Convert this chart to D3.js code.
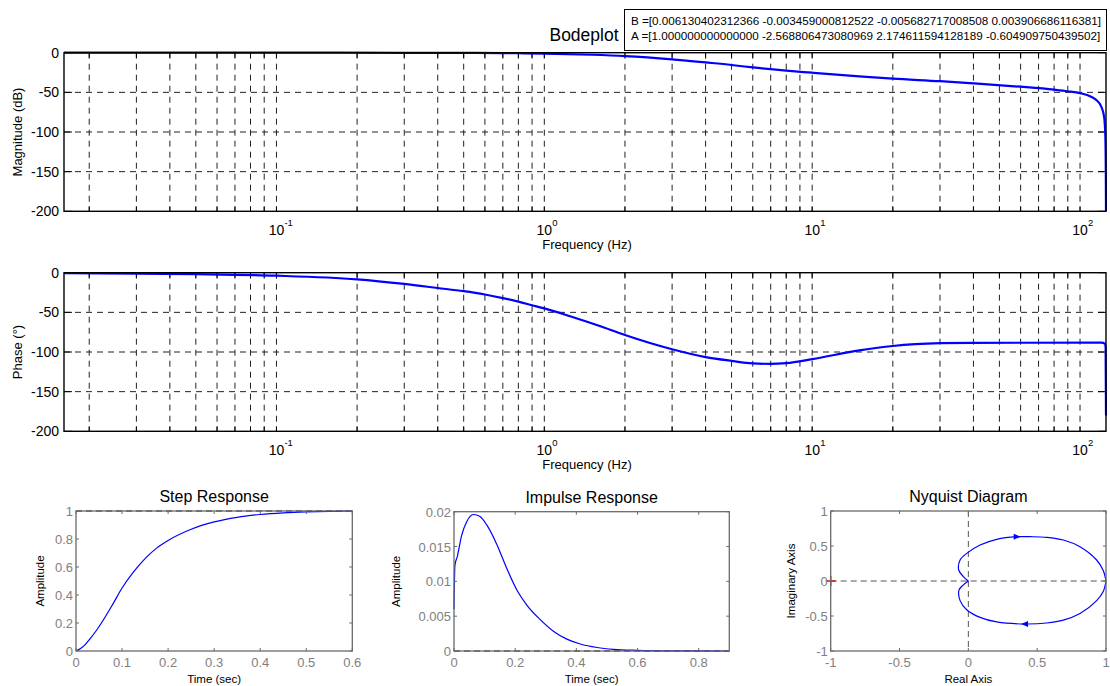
<!DOCTYPE html>
<html>
<head>
<meta charset="utf-8">
<title>Bodeplot</title>
<script src="https://cdn.jsdelivr.net/npm/d3@7"></script>
<style>
body { margin: 0; background: #fff; }
text { font-family: Arial, "Liberation Sans", sans-serif; }
</style>
</head>
<body>
<svg id="mainsvg" width="1110" height="686"></svg>
<script>
// ---- data ----
const coefLines = [
  'B =[0.006130402312366 -0.003459000812522 -0.005682717008508 0.003906686116381]',
  'A =[1.000000000000000 -2.568806473080969 2.174611594128189 -0.604909750439502]'
];
const freqDomain = [0.0161, 125];
const bodeYTicks = [0, -50, -100, -150, -200];
const decades = [-1, 0, 1, 2];

// [frequency (Hz), magnitude (dB)]
const magData = [
  [0.0161, 0], [0.1, 0], [0.3, -0.1], [0.5, -0.3], [0.7, -0.5], [0.8, -0.7], [1, -1.1],
  [1.5, -2.6], [2, -4.3], [3, -8.4], [4, -12.3], [5, -15.5], [6, -18.6], [8, -22.6],
  [10, -25.2], [15, -29.8], [20, -32.8], [30, -35.9], [40, -38.6], [60, -42.9],
  [80, -46.6], [90, -48.6], [100, -51], [110, -55.5], [115, -59.7], [120, -68],
  [123, -81], [124.3, -105], [124.8, -150], [125, -200]
];
// [frequency (Hz), phase (deg)]
const phaseData = [
  [0.0161, -0.6], [0.03, -1.1], [0.05, -1.9], [0.1, -3.8], [0.2, -8.4], [0.3, -14.2],
  [0.4, -19.3], [0.5, -23.3], [0.6, -27.5], [0.7, -32], [0.8, -36.5], [0.9, -41],
  [1, -45], [1.24, -54.6], [1.6, -67], [2, -78.6], [3, -96.6], [4, -106.5], [5, -111.2],
  [6, -114.3], [7, -115], [8, -114], [10, -109], [15, -98], [20, -92.4], [30, -88.9],
  [40, -88.4], [120, -88.3], [124, -89.5], [124.6, -95], [125, -180]
];

// [time (s), amplitude]
const stepData = [
  [0, 0], [0.01, 0.017], [0.02, 0.045], [0.03, 0.085], [0.045, 0.15], [0.06, 0.225],
  [0.08, 0.335], [0.1, 0.45], [0.125, 0.565], [0.15, 0.66], [0.175, 0.735], [0.2, 0.79],
  [0.25, 0.87], [0.3, 0.922], [0.35, 0.955], [0.4, 0.975], [0.45, 0.987], [0.5, 0.994],
  [0.55, 0.998], [0.6, 1]
];
const stepXTicks = [0, 0.1, 0.2, 0.3, 0.4, 0.5, 0.6];
const stepYTicks = [0, 0.2, 0.4, 0.6, 0.8, 1];

const impulseData = [
  [0, 0.006], [0.003, 0.0123], [0.011, 0.0136], [0.025, 0.0166], [0.042, 0.0186],
  [0.063, 0.0196], [0.085, 0.0193], [0.107, 0.0181], [0.14, 0.0153], [0.173, 0.0118],
  [0.205, 0.0088], [0.238, 0.0066], [0.282, 0.0045], [0.326, 0.0028], [0.369, 0.0017],
  [0.413, 0.001], [0.468, 0.0005], [0.522, 0.00024], [0.6, 0.0001], [0.7, 0.00003], [0.9, 0]
];
const impXTicks = [0, 0.2, 0.4, 0.6, 0.8];
const impYTicks = [0, 0.005, 0.01, 0.015, 0.02];

// [real, imag], upper branch from origin to (1,0), lower branch from (1,0) back to origin
const nyqUpper = [
  [0, 0], [-0.036, 0.062], [-0.07, 0.157], [-0.06, 0.3], [-0.012, 0.395], [0.085, 0.514],
  [0.206, 0.595], [0.351, 0.633], [0.448, 0.633], [0.569, 0.624], [0.69, 0.586],
  [0.811, 0.49], [0.932, 0.3], [0.98, 0.15], [1, 0]
];
const nyqLower = [
  [1, 0], [0.98, -0.15], [0.932, -0.28], [0.811, -0.465], [0.69, -0.56], [0.569, -0.6],
  [0.412, -0.614], [0.206, -0.585], [0.085, -0.52], [-0.012, -0.41], [-0.06, -0.28],
  [-0.068, -0.13], [-0.036, -0.055], [0, 0]
];
const nyqTicks = [-1, -0.5, 0, 0.5, 1];

const svg = d3.select('#mainsvg');
const fmt = d => String(d);

// ---- Bode panels ----
function bodePanel(top, bottom, data, yLabel, labelY) {
  const left = 64, right = 1106;
  const x = d3.scaleLog().domain(freqDomain).range([left, right]);
  const y = d3.scaleLinear().domain([-200, 0]).range([bottom, top]);
  const g = svg.append('g');

  const gridF = [];
  for (let k = -2; k <= 2; k++) {
    for (let m = 1; m <= 9; m++) {
      const v = m * Math.pow(10, k);
      if (v > freqDomain[0] && v < freqDomain[1]) gridF.push(v);
    }
  }
  g.selectAll('.vg').data(gridF).join('line')
    .attr('x1', d => x(d)).attr('x2', d => x(d))
    .attr('y1', top).attr('y2', bottom)
    .attr('stroke', '#222').attr('stroke-width', 1).attr('stroke-dasharray', '6,5');
  g.selectAll('.hg').data([-50, -100, -150]).join('line')
    .attr('x1', left).attr('x2', right)
    .attr('y1', d => y(d)).attr('y2', d => y(d))
    .attr('stroke', '#222').attr('stroke-width', 1).attr('stroke-dasharray', '6,5');

  // tick marks inside, all four sides
  g.selectAll('.tb').data(gridF).join('path')
    .attr('d', d => `M${x(d)},${bottom}v-5M${x(d)},${top}v5`)
    .attr('stroke', '#000');
  g.selectAll('.ty').data(bodeYTicks).join('path')
    .attr('d', d => `M${left},${y(d)}h8M${right},${y(d)}h-8`)
    .attr('stroke', '#000');

  const clipId = 'clip' + Math.round(top);
  svg.append('clipPath').attr('id', clipId).append('rect')
    .attr('x', left).attr('y', top - 2).attr('width', right - left + 1).attr('height', bottom - top + 4);
  g.append('path').datum(data)
    .attr('clip-path', `url(#${clipId})`)
    .attr('d', d3.line().x(d => x(d[0])).y(d => y(d[1])).curve(d3.curveMonotoneX))
    .attr('fill', 'none').attr('stroke', '#0000ff').attr('stroke-width', 2.2);

  g.append('rect').attr('x', left).attr('y', top).attr('width', right - left).attr('height', bottom - top)
    .attr('fill', 'none').attr('stroke', '#000').attr('stroke-width', 1.4);

  g.selectAll('.yl').data(bodeYTicks).join('text')
    .attr('x', left - 5).attr('y', d => y(d) + 5)
    .attr('text-anchor', 'end').attr('font-size', 14).text(fmt);

  const dl = g.selectAll('.xl').data(decades).join('g')
    .attr('transform', d => `translate(${x(Math.pow(10, d))},${bottom + 24})`);
  dl.append('text').attr('text-anchor', 'middle').attr('font-size', 14).text('10');
  dl.append('text').attr('x', 8).attr('y', -9).attr('font-size', 9.5).text(d => d);

  g.append('text').attr('x', (left + right) / 2 + 2).attr('y', bottom + 38)
    .attr('text-anchor', 'middle').attr('font-size', 13).text('Frequency (Hz)');
  g.append('text').attr('transform', `translate(22,${labelY}) rotate(-90)`)
    .attr('text-anchor', 'middle').attr('font-size', 13).text(yLabel);
}

bodePanel(52.7, 211.3, magData, 'Magnitude (dB)', 132);
bodePanel(272.7, 431.3, phaseData, 'Phase (\u00b0)', 352);

// title and coefficient box
svg.append('text').attr('x', 584).attr('y', 41).attr('text-anchor', 'middle')
  .attr('font-size', 17.5).text('Bodeplot');
svg.append('rect').attr('x', 624.5).attr('y', 9.5).attr('width', 482).attr('height', 41)
  .attr('fill', '#fff').attr('stroke', '#000').attr('stroke-width', 1);
svg.selectAll('.coef').data(coefLines).join('text')
  .attr('x', 631).attr('y', (d, i) => 25 + i * 15)
  .attr('font-size', 11.7)
  .text(d => d);

// ---- bottom panels ----
function smallPanel(o) {
  const x = d3.scaleLinear().domain(o.xd).range([o.l, o.r]);
  const y = d3.scaleLinear().domain(o.yd).range([o.b, o.t]);
  const g = svg.append('g');
  const axCol = '#6a6a6a', tickCol = '#808080';

  (o.refs || []).forEach(r => {
    g.append('line').attr('stroke', r.c || '#000').attr('stroke-dasharray', '6,4').attr('stroke-width', 1)
      .attr('x1', r.v ? x(r.v[0]) : o.l).attr('x2', r.v ? x(r.v[0]) : o.r)
      .attr('y1', r.h ? y(r.h[0]) : o.t).attr('y2', r.h ? y(r.h[0]) : o.b);
  });

  o.lines.forEach(ln => {
    g.append('path').datum(ln)
      .attr('d', d3.line().x(d => x(d[0])).y(d => y(d[1])).curve(o.curve || d3.curveLinear))
      .attr('fill', 'none').attr('stroke', '#0000ff').attr('stroke-width', 1.2);
  });
  if (o.extra) o.extra(g, x, y);

  g.append('rect').attr('x', o.l).attr('y', o.t).attr('width', o.r - o.l).attr('height', o.b - o.t)
    .attr('fill', 'none').attr('stroke', axCol).attr('stroke-width', 1.3);
  g.selectAll('.xt').data(o.xt).join('path')
    .attr('d', d => `M${x(d)},${o.b}v-3M${x(d)},${o.t}v3`).attr('stroke', axCol);
  g.selectAll('.yt').data(o.yt).join('path')
    .attr('d', d => `M${o.l},${y(d)}h3M${o.r},${y(d)}h-3`).attr('stroke', axCol);

  g.selectAll('.xl').data(o.xt).join('text')
    .attr('x', d => x(d)).attr('y', o.b + 16).attr('text-anchor', 'middle')
    .attr('font-size', 13).attr('fill', tickCol).text(fmt);
  g.selectAll('.yl').data(o.yt).join('text')
    .attr('x', o.l - 3).attr('y', d => y(d) + 5).attr('text-anchor', 'end')
    .attr('font-size', 13).attr('fill', tickCol).text(fmt);

  g.append('text').attr('x', (o.l + o.r) / 2).attr('y', o.t - 9).attr('text-anchor', 'middle')
    .attr('font-size', 16).text(o.title);
  g.append('text').attr('x', (o.l + o.r) / 2).attr('y', 683).attr('text-anchor', 'middle')
    .attr('font-size', 11.5).text(o.xlab);
  g.append('text').attr('transform', `translate(${o.ylx},${(o.t + o.b) / 2}) rotate(-90)`)
    .attr('text-anchor', 'middle').attr('font-size', 11.5).text(o.ylab);
}

smallPanel({
  l: 76, r: 352.3, t: 511, b: 651, xd: [0, 0.6], yd: [0, 1],
  xt: stepXTicks, yt: stepYTicks, lines: [stepData], curve: d3.curveMonotoneX,
  refs: [{ h: [1] }],
  title: 'Step Response', xlab: 'Time (sec)', ylab: 'Amplitude', ylx: 44
});

smallPanel({
  l: 454, r: 729.3, t: 511.7, b: 651, xd: [0, 0.9], yd: [0, 0.02],
  xt: impXTicks, yt: impYTicks, lines: [impulseData], curve: d3.curveMonotoneX,
  refs: [{ h: [0] }],
  title: 'Impulse Response', xlab: 'Time (sec)', ylab: 'Amplitude', ylx: 400
});

smallPanel({
  l: 830.7, r: 1106, t: 511, b: 651, xd: [-1, 1], yd: [-1, 1],
  xt: nyqTicks, yt: nyqTicks, lines: [nyqUpper, nyqLower], curve: d3.curveCatmullRom,
  refs: [{ h: [0], c: '#555' }, { v: [0], c: '#555' }],
  title: 'Nyquist Diagram', xlab: 'Real Axis', ylab: 'Imaginary Axis', ylx: 795,
  extra: (g, x, y) => {
    // direction arrows
    const arrows = [[nyqUpper[7], 1], [nyqLower[6], -1]];
    g.selectAll('.arr').data(arrows).join('path')
      .attr('d', d => {
        const px = x(d[0][0]), py = y(d[0][1]), s = d[1];
        return `M${px + 4 * s},${py}L${px - 3 * s},${py - 3}L${px - 3 * s},${py + 3}Z`;
      })
      .attr('fill', '#0000ff');
    // critical point
    g.append('path').attr('d', `M${x(-1) - 5},${y(0)}h10M${x(-1)},${y(0) - 5}v10`)
      .attr('stroke', '#ff0000').attr('stroke-width', 1.5);
  }
});
</script>
</body>
</html>
